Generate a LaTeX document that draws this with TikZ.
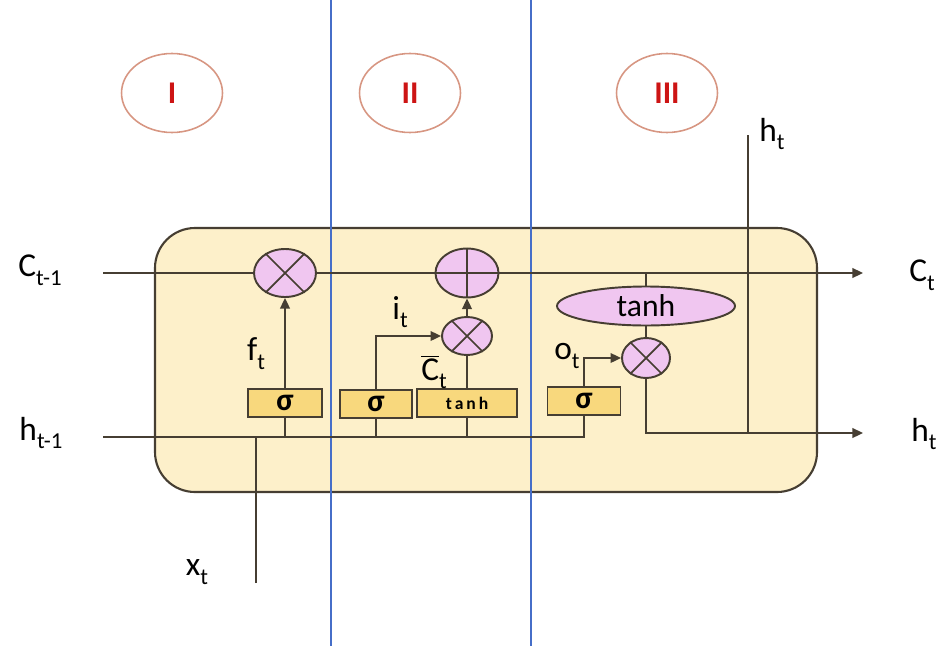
\documentclass[tikz,border=0pt]{standalone}
\usepackage{fontspec}
\setmainfont{Carlito}
\usetikzlibrary{shapes.geometric,arrows.meta}
\definecolor{cellfill}{RGB}{253,240,202}
\definecolor{edgec}{RGB}{70,62,50}
\definecolor{pinkc}{RGB}{240,198,240}
\definecolor{goldc}{RGB}{248,216,125}
\definecolor{bluec}{RGB}{70,110,200}
\definecolor{ringc}{RGB}{215,150,130}
\definecolor{redc}{RGB}{205,20,20}
\newcommand{\lsub}[1]{\raisebox{-0.55ex}{\fontsize{13}{13}\selectfont #1}}
\begin{document}
\begin{tikzpicture}[x=0.02cm,y=-0.02cm,
  conn/.style={draw=edgec,line width=1pt},
  tip/.style={-{Triangle[length=6pt,width=5.5pt]}},
  mult/.style={ellipse,draw=edgec,fill=pinkc,line width=1.1pt,inner sep=0pt},
  gatebox/.style={rectangle,draw=edgec,fill=goldc,line width=1.1pt,inner sep=0pt,minimum height=0.56cm},
  lab/.style={font=\fontsize{19}{19}\selectfont,inner sep=0pt},
  ring/.style={ellipse,draw=ringc,line width=0.9pt,minimum width=2.02cm,minimum height=1.58cm,text=redc,font=\bfseries\fontsize{18}{18}\selectfont}
]
\useasboundingbox (0,0) rectangle (943,646);
% cell
\path[draw=edgec,fill=cellfill,line width=1.2pt,rounded corners=0.8cm] (155,228) rectangle (817,492);
% separators
\draw[bluec,line width=0.9pt] (331,0) -- (331,646);
\draw[bluec,line width=0.9pt] (531,0) -- (531,646);
% stage labels
\node[ring] (r1) at (172,93) {I};
\node[ring] (r2) at (410,93) {II};
\node[ring] (r3) at (667,93) {III};
% operator nodes
\node[mult,minimum width=1.24cm,minimum height=0.96cm] (fmul) at (285,273) {};
\node[mult,minimum width=1.26cm,minimum height=0.98cm] (plus) at (467,273) {};
\node[mult,minimum width=1.0cm,minimum height=0.76cm] (imul) at (467,336) {};
\node[mult,minimum width=0.96cm,minimum height=0.8cm] (omul) at (646,358) {};
\node[mult,minimum width=3.56cm,minimum height=0.78cm,font=\fontsize{18}{18}\selectfont] (tanhE) at (646,306) {tanh};
\draw[edgec,line width=1pt] (fmul.45) -- (fmul.225) (fmul.135) -- (fmul.315);
\draw[edgec,line width=1pt] (plus.north) -- (plus.south) (plus.west) -- (plus.east);
\draw[edgec,line width=1pt] (imul.45) -- (imul.225) (imul.135) -- (imul.315);
\draw[edgec,line width=1pt] (omul.45) -- (omul.225) (omul.135) -- (omul.315);
% gate boxes
\node[gatebox,minimum width=1.48cm,font=\bfseries\fontsize{18}{18}\selectfont] (sig1) at (285,403) {σ};
\node[gatebox,minimum width=1.44cm,font=\bfseries\fontsize{18}{18}\selectfont] (sig2) at (376,404) {σ};
\node[gatebox,minimum width=2.0cm,font=\bfseries\fontsize{10}{10}\selectfont] (tanhB) at (467,403) {t\,a\,n\,h};
\node[gatebox,minimum width=1.46cm,font=\bfseries\fontsize{18}{18}\selectfont] (sig3) at (584,401) {σ};
% outer labels
\node[lab] (cprev) at (40,270) {C\lsub{t-1}};
\node[lab] (hprev) at (41,433) {h\lsub{t-1}};
\node[lab] (xt) at (197,572) {x\lsub{t}};
\node[lab] (ctl) at (922,275) {C\lsub{t}};
\node[lab] (htl) at (924,434) {h\lsub{t}};
\node[lab] (httop) at (772,134) {h\lsub{t}};
\node[lab] (ftl) at (256,354) {f\lsub{t}};
\node[lab] (itl) at (400,312) {i\lsub{t}};
\node[lab] (ctil) at (434,372) {$\overline{\hbox{C}}$\lsub{t}};
\node[lab] (otl) at (567,356) {o\lsub{t}};
% coordinates
\coordinate (cin) at (103,273);
\coordinate (cout) at (863,273);
\coordinate (hin) at (103,437);
\coordinate (hout) at (863,433);
\coordinate (xin) at (256,583);
\coordinate (cj) at (646,273);
\coordinate (hj) at (748,433);
\coordinate (htop) at (748,135);
% cell state line
\draw[conn] (cin) -- (fmul.west);
\draw[conn] (fmul.east) -- (plus.west);
\draw[conn,tip] (plus.east) -- (cout);
% hidden input line
\draw[conn] (hin) -| (sig3.south);
\draw[conn] (xin) -- (xin |- hin);
\draw[conn] (sig1.south) -- (sig1.south |- hin);
\draw[conn] (sig2.south) -- (sig2.south |- hin);
\draw[conn] (tanhB.south) -- (tanhB.south |- hin);
% gates
\draw[conn,tip] (sig1.north) -- (fmul.south);
\draw[conn,tip] (sig2.north) |- (imul.west);
\draw[conn] (tanhB.north) -- (imul.south);
\draw[conn,tip] (imul.north) -- (plus.south);
\draw[conn,tip] (sig3.north) |- (omul.west);
\draw[conn] (cj) -- (tanhE.north);
\draw[conn] (tanhE.south) -- (omul.north);
\draw[conn,tip] (omul.south) |- (hout);
\draw[conn] (hj) -- (htop);
\end{tikzpicture}
\end{document}
